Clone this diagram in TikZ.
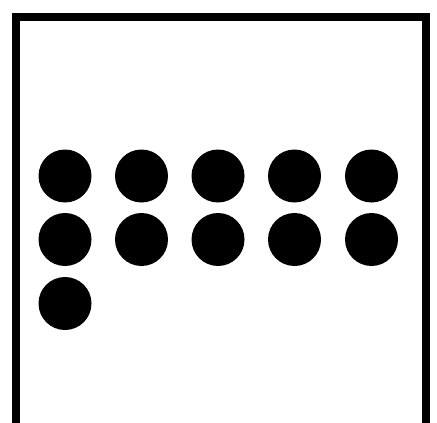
\documentclass[tikz,border=0pt]{standalone}
\begin{document}
\begin{tikzpicture}[x=1pt,y=-1pt,
  dot/.style={circle,fill=black,draw=none,inner sep=0pt,minimum size=53pt},
  frame/.style={line width=8pt,line join=miter}]
\useasboundingbox (0,0) rectangle (437,423);
\clip (0,0) rectangle (437,423);
\draw[frame] (16,440) -- (16,17) -- (426,17) -- (426,440);
\foreach \i/\x in {1/65,2/141.5,3/218,4/294.5,5/371.5}{
  \node[dot] (a\i) at (\x,176) {};
  \node[dot] (b\i) at (\x,239.5) {};
}
\node[dot] (c1) at (65,303.5) {};
\end{tikzpicture}
\end{document}
